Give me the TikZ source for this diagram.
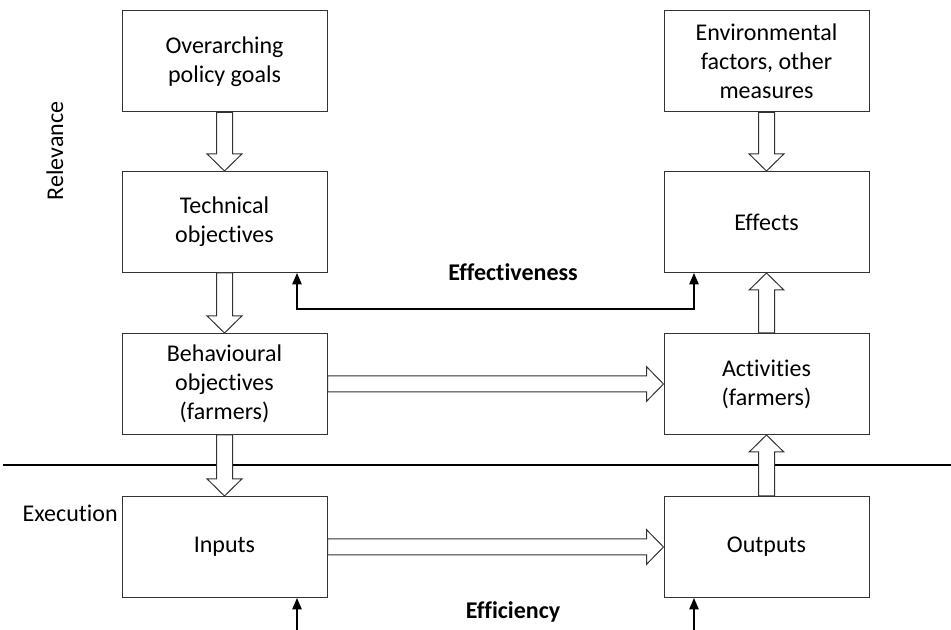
\documentclass[tikz,border=0pt]{standalone}
\usepackage{fontspec}
\setmainfont[Ligatures=NoCommon]{Carlito}
\usetikzlibrary{calc,arrows.meta}

\tikzset{
  box/.style={draw=black!80, line width=0.75pt, minimum width=205*0.75pt,
    minimum height=101*0.75pt, inner sep=0pt, align=center,
    font=\fontsize{18}{21.8}\selectfont},
  lbl/.style={font=\fontsize{18}{21.8}\selectfont},
  blbl/.style={font=\fontsize{18}{21.8}\selectfont\bfseries},
  % block arrow with hollow body, drawn between two points
  hollow/.style={draw=black!80, fill=white, line width=0.75pt, to path={
    let \p1=(\tikztostart), \p2=(\tikztotarget),
        \n1={atan2(\y2-\y1,\x2-\x1)}, \n2={veclen(\x2-\x1,\y2-\y1)} in
    {[shift={(\p1)}, rotate=\n1]
      (0pt,6pt) -- ({\n2*1pt-12.75pt},6pt) -- ({\n2*1pt-12.75pt},13pt)
      -- ({\n2*1pt},0pt) -- ({\n2*1pt-12.75pt},-13pt)
      -- ({\n2*1pt-12.75pt},-6pt) -- (0pt,-6pt) -- cycle}}},
  thin/.style={draw=black, line width=1.1pt, -{Triangle[length=8.5pt,width=7pt]}}
}

\begin{document}
\begin{tikzpicture}[x=0.75pt,y=-0.75pt]
  \useasboundingbox (0,0) rectangle (951,630);

  % left column
  \node[box] (goals) at (224.5,61.5) {Overarching\\policy goals};
  \node[box] (tech)  at (224.5,222)  {Technical\\objectives};
  \node[box] (behav) at (224.5,384)  {Behavioural\\objectives\\(farmers)};
  \node[box] (inp)   at (224.5,547)  {Inputs};

  % right column
  \node[box] (env)   at (766.5,61.5) {Environmental\\factors, other\\measures};
  \node[box] (eff)   at (766.5,222)  {Effects};
  \node[box] (act)   at (766.5,384)  {Activities\\(farmers)};
  \node[box] (outp)  at (766.5,547)  {Outputs};

  % separator between relevance and execution
  \coordinate (sepL) at (3,465);
  \coordinate (sepR) at (951,465);
  \draw[line width=1.5pt] (sepL) -- (sepR);

  % side labels
  \node[lbl, rotate=90] (rel) at (55,151) {Relevance};
  \node[lbl, anchor=east, inner sep=0pt] (exe) at (118,513) {Execution};

  % block arrows
  \draw[hollow] (goals.south) to (tech.north);
  \draw[hollow] (tech.south) to (behav.north);
  \draw[hollow] (behav.south) to (inp.north);
  \draw[hollow] (env.south) to (eff.north);
  \draw[hollow] (act.north) to (eff.south);
  \draw[hollow] (outp.north) to (act.south);
  \draw[hollow] (behav.east) to (act.west);
  \draw[hollow] (inp.east) to (outp.west);

  % effectiveness link
  \coordinate (effL) at (297,309);
  \coordinate (effR) at (694,309);
  \draw[thin] (effL) -- (effR) -- (effR |- eff.south);
  \draw[thin] (effR) -- (effL) -- (effL |- tech.south);
  \node[blbl] (effness) at (513,272) {Effectiveness};

  % efficiency link
  \coordinate (fiL) at (297,630);
  \coordinate (fiR) at (694,630);
  \draw[thin] (fiL) -- (fiL |- inp.south);
  \draw[thin] (fiR) -- (fiR |- outp.south);
  \node[blbl] (effcy) at (513,612) {Efficiency};
\end{tikzpicture}
\end{document}
